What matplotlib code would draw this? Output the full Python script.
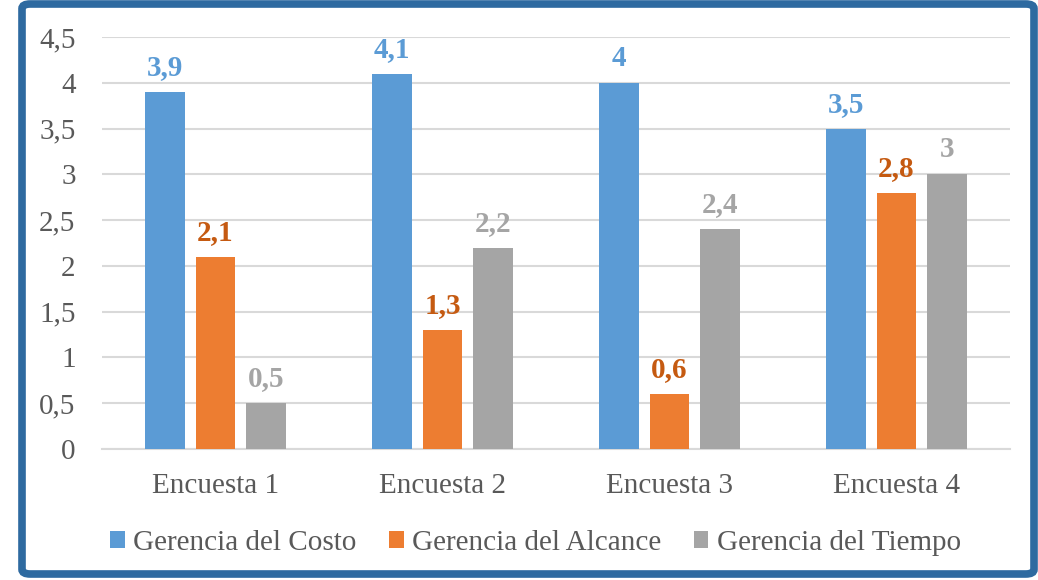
import numpy as np
import matplotlib.pyplot as plt
from matplotlib.patches import FancyBboxPatch

plt.rcParams['font.family'] = ['Liberation Serif', 'DejaVu Serif']

categories = ['Encuesta 1', 'Encuesta 2', 'Encuesta 3', 'Encuesta 4']
series_names = ['Gerencia del Costo', 'Gerencia del Alcance', 'Gerencia del Tiempo']
costo = [3.9, 4.1, 4.0, 3.5]
alcance = [2.1, 1.3, 0.6, 2.8]
tiempo = [0.5, 2.2, 2.4, 3.0]

bar_colors = ['#5B9BD5', '#ED7D31', '#A5A5A5']
label_colors = ['#5B9BD5', '#C55A11', '#A5A5A5']

fig = plt.figure(figsize=(10.38, 5.8), dpi=100)
ax = fig.add_axes([102 / 1038, 1 - 449 / 580, 908 / 1038, 412 / 580])

x = np.arange(len(categories))
width = 0.176
step = 0.222
for i, (vals, name) in enumerate(zip([costo, alcance, tiempo], series_names)):
    pos = x + (i - 1) * step
    ax.bar(pos, vals, width, color=bar_colors[i], label=name, zorder=3)
    for p, v in zip(pos, vals):
        txt = ('%g' % v).replace('.', ',')
        ax.text(p, v + 0.12, txt, ha='center', va='bottom', fontsize=21,
                fontweight='bold', color=label_colors[i])

ax.set_xlim(-0.5, 3.5)
ax.set_ylim(0, 4.5)
ticks = np.arange(0, 4.51, 0.5)
ax.set_yticks(ticks)
ax.set_yticklabels([('%g' % t).replace('.', ',') for t in ticks])
ax.set_xticks(x)
ax.set_xticklabels(categories)
ax.tick_params(axis='both', length=0, labelsize=21, colors='#595959')
ax.tick_params(axis='y', pad=19)
ax.tick_params(axis='x', pad=17)
ax.yaxis.grid(True, color='#D9D9D9', linewidth=1.5, zorder=0)
for s in ['top', 'right', 'left']:
    ax.spines[s].set_visible(False)
ax.spines['bottom'].set_color('#D9D9D9')
ax.spines['bottom'].set_linewidth(1.5)

leg = fig.legend(loc='center', bbox_to_anchor=(0.516, 1 - 543 / 580), ncol=3,
                 frameon=False, fontsize=21, handlelength=0.5, handleheight=0.5,
                 handletextpad=0.3, columnspacing=1.1)
for t in leg.get_texts():
    t.set_color('#595959')

frame = FancyBboxPatch((22 / 1038, 6 / 580), 1012 / 1038, 570 / 580,
                       boxstyle='round,pad=0,rounding_size=0.008',
                       transform=fig.transFigure, fill=False,
                       edgecolor='#2E6AA0', linewidth=5.5)
fig.patches.append(frame)

fig.savefig('out.png', dpi=100)
